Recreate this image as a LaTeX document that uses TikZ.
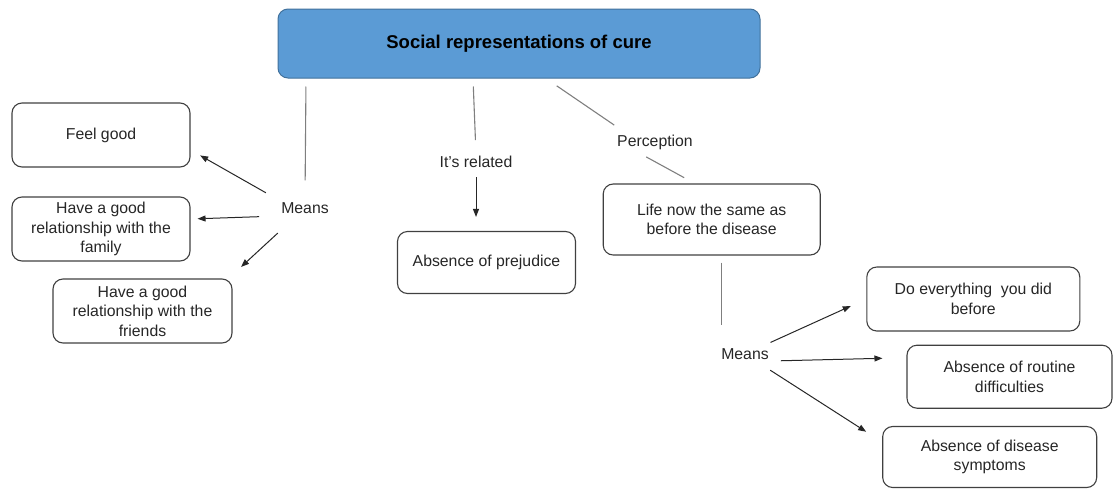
\documentclass[tikz,border=0pt]{standalone}
\usepackage{fontspec}
\setmainfont{Liberation Sans}
\usepackage{tikz}
\usetikzlibrary{arrows.meta}
\definecolor{headfill}{HTML}{5B9BD5}
\definecolor{headdraw}{HTML}{41719C}
\definecolor{boxdraw}{HTML}{404040}
\definecolor{linegray}{HTML}{7F7F7F}
\definecolor{ink}{HTML}{262626}
\tikzset{
  head/.style={draw=headdraw, fill=headfill, line width=1pt, rounded corners=10pt, text=black, inner sep=0pt, font=\fontsize{18.5}{22}\selectfont\bfseries},
  box/.style={draw=boxdraw, line width=1.1pt, rounded corners=10pt, align=center, inner sep=0pt, text=ink, font=\fontsize{15.8}{19.5}\selectfont},
  lab/.style={text=ink, inner sep=2pt, font=\fontsize{15.8}{19.5}\selectfont},
  link/.style={draw=linegray, line width=1.1pt},
  arr/.style={draw=ink, line width=1pt, -{Triangle[length=8pt,width=6pt]}}
}
\begin{document}
\begin{tikzpicture}[x=1pt,y=-1pt]
  \useasboundingbox (0,0) rectangle (1114,488);

  \node[head, minimum width=482pt, minimum height=69pt] (title) at (519,43.5) {Social representations of cure};

  % left branch
  \node[box, minimum width=178pt, minimum height=64pt] (feel) at (101,135) {Feel good};
  \node[box, minimum width=178pt, minimum height=64pt] (family) at (101,229) {Have a good\\relationship with the\\family};
  \node[box, minimum width=179pt, minimum height=64pt] (friends) at (142.5,311) {Have a good\\relationship with the\\friends};
  \node[lab] (meansL) at (305,208) {Means};

  % middle branch
  \node[lab] (related) at (476,162) {It’s related};
  \node[box, minimum width=178pt, minimum height=62pt] (prejudice) at (486.5,262.5) {Absence of prejudice};

  % right branch
  \node[lab] (perception) at (655,142) {Perception};
  \node[box, minimum width=217pt, minimum height=71pt] (life) at (711.7,219.5) {Life now the same as\\before the disease};
  \node[lab] (meansR) at (745,354) {Means};
  \node[box, minimum width=213pt, minimum height=64pt] (doall) at (973.3,299) {Do everything\ \ you did\\before};
  \node[box, minimum width=205pt, minimum height=63pt] (routine) at (1009.5,376.7) {Absence of routine\\difficulties};
  \node[box, minimum width=214pt, minimum height=61pt] (symptoms) at (989.7,457) {Absence of disease\\symptoms};

  \draw[link, shorten <=8pt, shorten >=20pt] ([xshift=-213pt]title.south) -- (meansL.north);
  \draw[arr, shorten <=45pt, shorten >=11pt] ([yshift=-7pt]meansL.center) -- ([yshift=-15pt]feel.east);
  \draw[arr, shorten <=20pt, shorten >=7pt] ([yshift=-8pt]meansL.west) -- ([yshift=10pt]family.east);
  \draw[arr, shorten <=37pt, shorten >=17pt] (meansL.center) -- ([xshift=-4pt]friends.north east);

  \draw[link, shorten <=8pt, shorten >=14pt] ([xshift=-46pt]title.south) -- (related.north);
  \draw[arr, shorten <=7pt, shorten >=14pt] (related.south) -- (related.south |- prejudice.north);

  \draw[link, shorten <=13pt, shorten >=30pt] ([xshift=27pt]title.south) -- ([xshift=-16pt]perception.center);
  \draw[link, shorten <=31pt, shorten >=12pt] ([xshift=-36pt]perception.center) -- ([xshift=-17pt]life.north);
  \draw[link, shorten <=7pt, shorten >=21pt] ([xshift=10pt]life.south) -- ([xshift=10pt]life.south |- meansR.north);
  \draw[arr, shorten <=28pt, shorten >=17pt] (meansR.center) -- (doall.west);
  \draw[arr, shorten <=10pt, shorten >=24pt] ([yshift=-7pt]meansR.east) -- ([yshift=19pt]routine.west);
  \draw[arr, shorten <=30pt, shorten >=19pt] (meansR.center) -- ([yshift=15pt]symptoms.west);
\end{tikzpicture}
\end{document}
